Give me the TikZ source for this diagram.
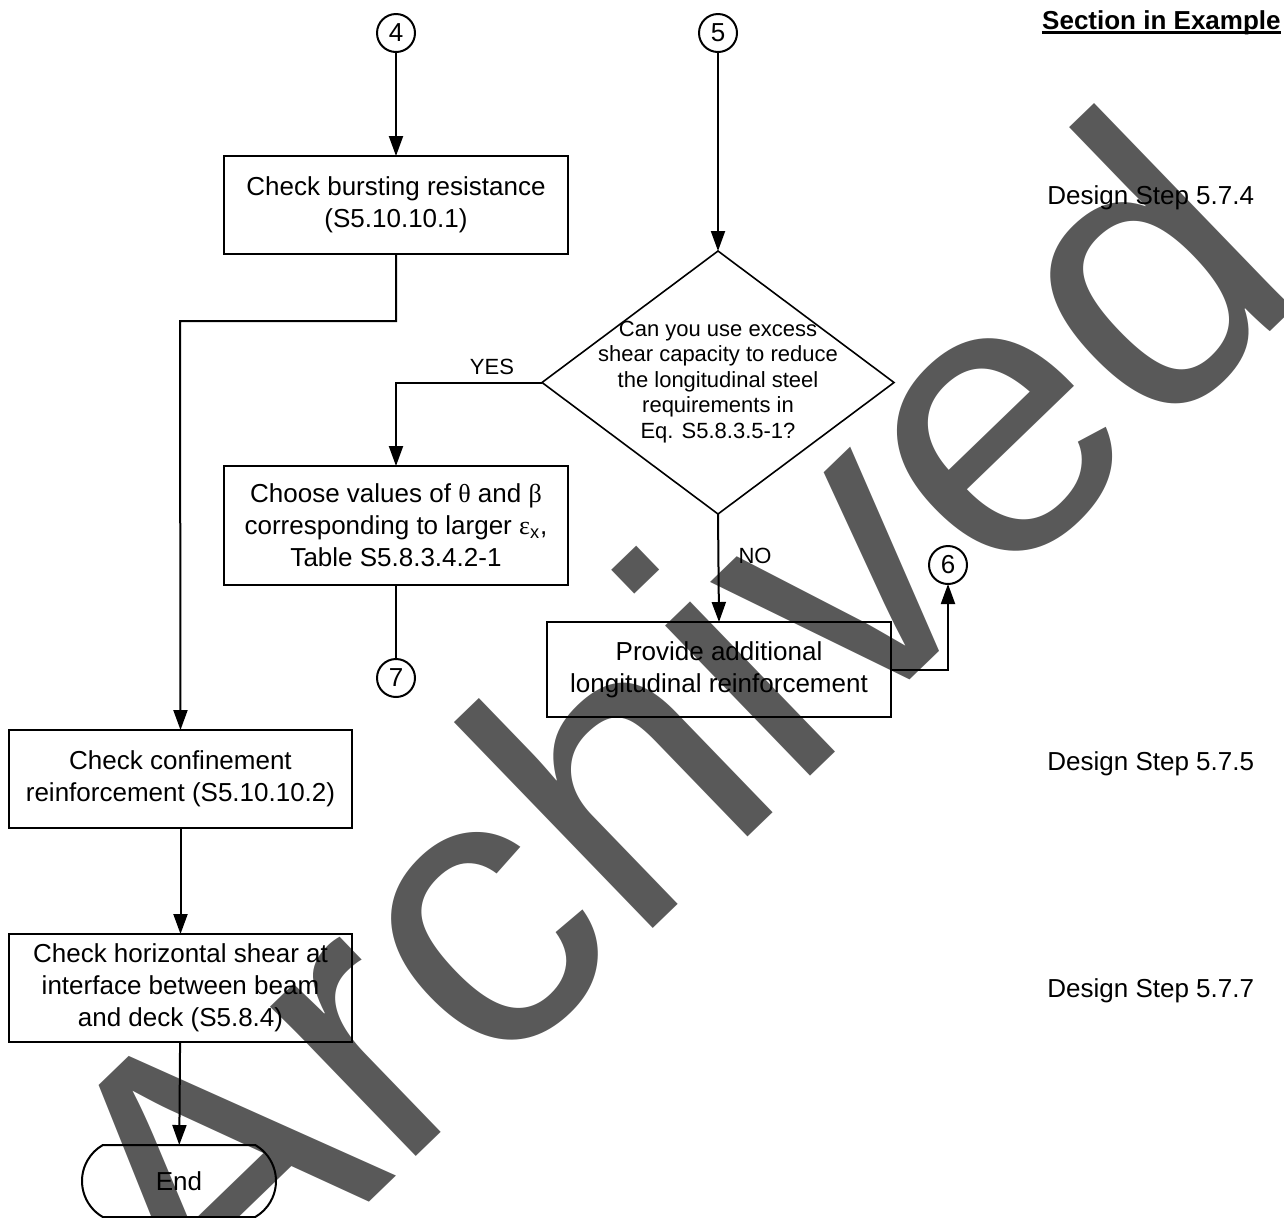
\documentclass[tikz,border=0pt]{standalone}
\usepackage{fontspec}
\setmainfont{Liberation Sans}
\newfontfamily\grk{Liberation Serif}
\usetikzlibrary{shapes.geometric,shapes.misc,arrows.meta}
\definecolor{wm}{HTML}{595959}
\begin{document}
\begin{tikzpicture}[x=0.5pt,y=-0.5pt,
  box/.style={draw,line width=1pt,rectangle,inner sep=0pt,outer sep=0pt,align=center,font=\fontsize{13}{16}\selectfont},
  conn/.style={draw,circle,line width=1pt,inner sep=0pt,outer sep=0pt,minimum size=19pt,font=\fontsize{13}{15}\selectfont},
  arr/.style={line width=1pt,-{Triangle[length=10pt,width=7pt]}},
  ln/.style={line width=1pt},
  lbl/.style={font=\fontsize{13}{15}\selectfont,inner sep=0pt,anchor=base west},
  small/.style={font=\fontsize{11}{12.75}\selectfont,inner sep=0pt}]
\useasboundingbox (0,0) rectangle (1284,1217);
% watermark (behind)
\node[rotate=44,anchor=base,text=wm,inner sep=0pt,font=\fontsize{197.5}{197.5}\selectfont] (wmk) at (760,825) {Archived};
% connector circles
\node[conn] (c4) at (396,33) {4};
\node[conn] (c5) at (718,33) {5};
\node[conn] (c6) at (948,565) {6};
\node[conn] (c7) at (396,678) {7};
% boxes
\node[box,minimum width=172pt,minimum height=49pt] (b1) at (396,205) {Check bursting resistance\\(S5.10.10.1)};
\node[box,minimum width=172pt,minimum height=59.5pt] (b2) at (396,525.5) {Choose values of {\grk θ} and {\grk β}\\corresponding to larger {\grk ε}\textsubscript{x},\\Table S5.8.3.4.2-1};
\node[box,minimum width=172pt,minimum height=47.5pt] (pr) at (719,669.5) {Provide additional\\longitudinal reinforcement};
\node[box,minimum width=171.5pt,minimum height=49pt] (b3) at (180.5,779) {Check confinement\\reinforcement (S5.10.10.2)};
\node[box,minimum width=171.5pt,minimum height=54pt] (b4) at (180.5,988) {Check horizontal shear at\\interface between beam\\and deck (S5.8.4)};
\node[draw,line width=1pt,rounded rectangle,rounded rectangle arc length=120,minimum width=97pt,minimum height=36pt,inner sep=0pt,outer sep=0pt,font=\fontsize{13}{15}\selectfont] (end) at (179,1181) {End};
% decision
\node[draw,diamond,line width=0.8pt,minimum width=176pt,minimum height=131.5pt,inner sep=0pt,outer sep=0pt] (dia) at (718,382.5) {};
\node[small,align=center] (dq) at (718,382) {Can you use excess\\shear capacity to reduce\\the longitudinal steel\\requirements in\\Eq. S5.8.3.5-1?};
% connectors
\coordinate (k1) at (180,321);
\draw[arr] (c4) -- (b1);
\draw[arr] (b1.south) |- (k1) -- (b3.north);
\draw[arr] (c5) -- (dia.north);
\draw[arr] (dia.west) -| (b2.north);
\node[small,anchor=base] (yes) at (492,374) {YES};
\draw[ln] (b2.south) -- (c7.north);
\draw[arr] (dia.south) -- (pr.north);
\node[small,anchor=base] (no) at (755,563) {NO};
\draw[arr] (pr.east) -| (c6.south);
\draw[arr] (b3) -- (b4);
\draw[arr] (b4) -- (end);
% right column
\node[lbl,font=\bfseries\fontsize{13}{15}\selectfont,anchor=base east] (sec) at (1281,29) {Section in Example};
\draw[line width=1.5pt] ([yshift=-1.8pt]sec.base west) -- ([yshift=-1.8pt]sec.base east);
\node[lbl] (d4) at (1047,204) {Design Step 5.7.4};
\node[lbl] (d5) at (1047,770) {Design Step 5.7.5};
\node[lbl] (d7) at (1047,997) {Design Step 5.7.7};
\end{tikzpicture}
\end{document}
